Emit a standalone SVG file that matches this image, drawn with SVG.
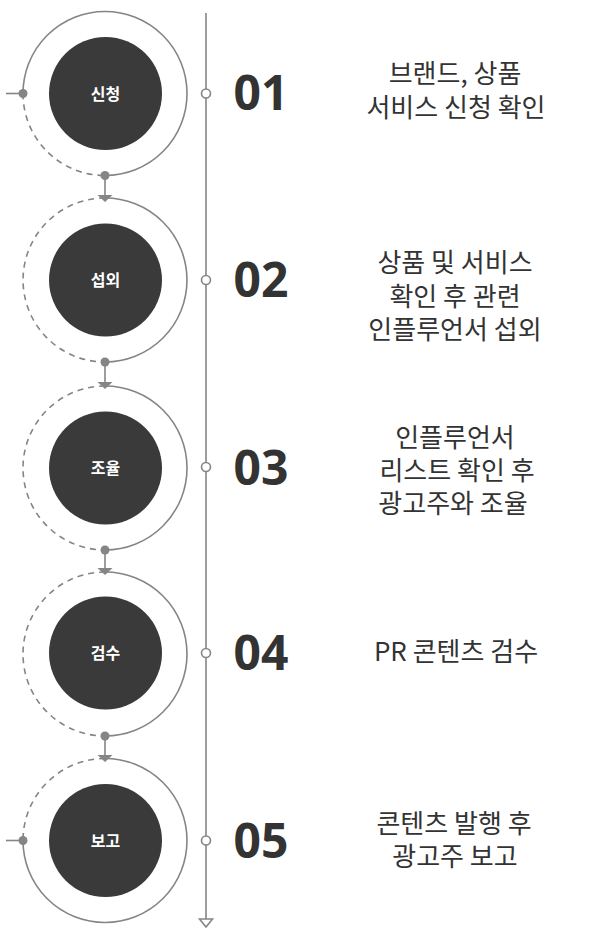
<svg xmlns="http://www.w3.org/2000/svg" width="610" height="934" viewBox="0 0 610 934">
<style>
.ring{fill:none;stroke:#858585;stroke-width:1.6}
.dash{fill:none;stroke:#858585;stroke-width:1.6;stroke-dasharray:6 5}
.core{fill:#3a3a3a}
.dot{fill:#858585}
.tick{fill:#fff;stroke:#858585;stroke-width:1.6}
.lbl{font-family:"Noto Sans CJK KR","Noto Sans",sans-serif;font-weight:700;font-size:16px;fill:#fff;text-anchor:middle}
.num{font-family:"Noto Sans","Open Sans",sans-serif;font-weight:700;font-size:48px;fill:#333;text-anchor:middle}
.desc{font-family:"Noto Sans CJK KR","Noto Sans",sans-serif;font-weight:400;font-size:26px;fill:#333;text-anchor:middle}
.conn{fill:none;stroke:#858585;stroke-width:1.6}
</style>

<g id="timeline">
<line class="conn" x1="206" y1="13" x2="206" y2="919"/>
<path d="M199.5 919 L212.5 919 L206 927 Z" class="tick"/>
<circle class="tick" cx="206" cy="93.5" r="4.5"/>
<circle class="tick" cx="206" cy="280" r="4.5"/>
<circle class="tick" cx="206" cy="467" r="4.5"/>
<circle class="tick" cx="206" cy="653" r="4.5"/>
<circle class="tick" cx="206" cy="840.5" r="4.5"/>
</g>

<g id="connectors">
<line class="conn" x1="6" y1="93.5" x2="23" y2="93.5"/>
<line class="conn" x1="6" y1="840.5" x2="23" y2="840.5"/>
<path class="conn" d="M105 175.5 V195"/>
<path d="M97.5 195 L112.5 195 L105 202 Z" class="dot"/>
<path class="conn" d="M105 362 V382"/>
<path d="M97.5 382 L112.5 382 L105 389 Z" class="dot"/>
<path class="conn" d="M105 550 V568"/>
<path d="M97.5 568 L112.5 568 L105 575 Z" class="dot"/>
<path class="conn" d="M105 736 V755"/>
<path d="M97.5 755 L112.5 755 L105 762 Z" class="dot"/>
</g>

<g id="step1">
<path class="ring" d="M105 175.5 A82 82 0 1 0 23 93.5"/>
<path class="dash" d="M23 93.5 A82 82 0 0 0 105 175.5"/>
<circle class="core" cx="105.5" cy="93.5" r="56.5"/>
<circle class="dot" cx="23" cy="93.5" r="4.5"/>
<circle class="dot" cx="105" cy="175.5" r="4.5"/>
<text class="lbl" x="105.5" y="99.5">신청</text>
<text class="num" x="261" y="110">01</text>
<text class="desc" x="455" y="82.5">브랜드, 상품</text>
<text class="desc" x="456" y="117">서비스 신청 확인</text>
</g>

<g id="step2">
<path class="ring" d="M105 198 A82 82 0 0 1 105 362"/>
<path class="dash" d="M105 198 A82 82 0 0 0 105 362"/>
<circle class="core" cx="105.5" cy="280" r="56.5"/>
<circle class="dot" cx="105" cy="362" r="4.5"/>
<text class="lbl" x="105.5" y="286">섭외</text>
<text class="num" x="261" y="297">02</text>
<text class="desc" x="455" y="272">상품 및 서비스</text>
<text class="desc" x="455" y="305.5">확인 후 관련</text>
<text class="desc" x="455" y="339">인플루언서 섭외</text>
</g>

<g id="step3">
<path class="ring" d="M105 386 A82 82 0 0 1 105 550"/>
<path class="dash" d="M105 386 A82 82 0 0 0 105 550"/>
<circle class="core" cx="105.5" cy="468" r="56.5"/>
<circle class="dot" cx="105" cy="550" r="4.5"/>
<text class="lbl" x="105.5" y="474">조율</text>
<text class="num" x="261" y="485">03</text>
<text class="desc" x="455" y="446.5">인플루언서</text>
<text class="desc" x="457" y="479.5">리스트 확인 후</text>
<text class="desc" x="453" y="512.5">광고주와 조율</text>
</g>

<g id="step4">
<path class="ring" d="M105 572 A82 82 0 0 1 105 736"/>
<path class="dash" d="M105 572 A82 82 0 0 0 105 736"/>
<circle class="core" cx="105.5" cy="653" r="56.5"/>
<circle class="dot" cx="105" cy="736" r="4.5"/>
<text class="lbl" x="105.5" y="659">검수</text>
<text class="num" x="261" y="670">04</text>
<text class="desc" x="456" y="660.5">PR 콘텐츠 검수</text>
</g>

<g id="step5">
<path class="ring" d="M23 840.5 A82 82 0 1 0 105 758.5"/>
<path class="dash" d="M105 758.5 A82 82 0 0 0 23 840.5"/>
<circle class="core" cx="105.5" cy="840.5" r="56.5"/>
<circle class="dot" cx="23" cy="840.5" r="4.5"/>
<text class="lbl" x="105.5" y="846.5">보고</text>
<text class="num" x="261" y="857.5">05</text>
<text class="desc" x="454" y="832.5">콘텐츠 발행 후</text>
<text class="desc" x="455" y="865.5">광고주 보고</text>
</g>
</svg>
